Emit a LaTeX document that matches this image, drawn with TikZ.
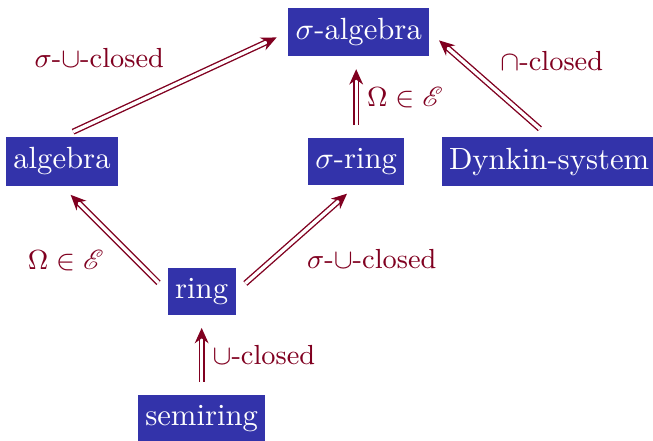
\documentclass[tikz,border=0pt]{standalone}
\usepackage{mathrsfs}
\usepackage{xcolor}
\usepackage{tikz}
\usetikzlibrary{arrows.meta, positioning}

\definecolor{setblue}{RGB}{51,51,170}
\definecolor{setred}{RGB}{128,0,32}

\begin{document}
\begin{tikzpicture}[
    setbox/.style={rectangle, fill=setblue, text=white, inner xsep=2.4pt, minimum height=0.515cm},
    arrow/.style={draw=setred, double, double distance=1.1pt, line width=0.45pt, -{Stealth[length=5pt, width=4.5pt]}, shorten >=4pt, shorten <=4pt},
    label/.style={font=\small, text=setred}
]
\useasboundingbox (0,0) rectangle (7.48,-5.05);

% Set systems
\node[setbox] (sigalg) at (4.11, -0.37) {$\sigma$-algebra};
\node[setbox] (alg) at (0.71, -1.85) {algebra};
\node[setbox] (sigring) at (4.08, -1.85) {$\sigma$-ring};
\node[setbox] (dynkin) at (6.29, -1.85) {Dynkin-system};
\node[setbox] (ring) at (2.31, -3.34) {ring};
\node[setbox] (semiring) at (2.31, -4.79) {semiring};

% Implications
\draw[arrow] (alg.north) -- (sigalg.west) node[pos=0.5, above left, yshift=2pt, label] {$\sigma$-$\cup$-closed};
\draw[arrow] (sigring.north) -- (sigalg.south -| sigring.north) node[midway, right, label] {$\Omega\in\mathscr{E}$};
\draw[arrow] (dynkin.north) -- (sigalg.east) node[midway, above right, yshift=1pt, label] {$\cap$-closed};
\draw[arrow] (ring.west) -- (alg.south) node[midway, below left, label] {$\Omega\in\mathscr{E}$};
\draw[arrow] (ring.east) -- (sigring.south) node[midway, below right, label] {$\sigma$-$\cup$-closed};
\draw[arrow] (semiring.north) -- (ring.south) node[midway, right, label] {$\cup$-closed};

\end{tikzpicture}
\end{document}
